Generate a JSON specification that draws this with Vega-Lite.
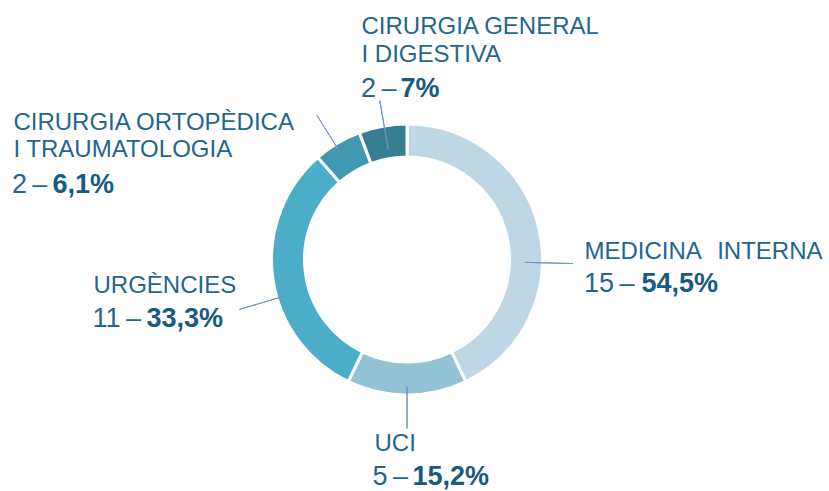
{
  "$schema": "https://vega.github.io/schema/vega-lite/v6.json",
  "autosize": {"type": "none"},
  "width": 814,
  "height": 463,
  "padding": {"left": 0, "top": 28, "right": 15, "bottom": 0},
  "background": "white",
  "config": {"view": {"stroke": null}},
  "data": {
    "values": [
      {"name": "MEDICINA\u00a0\u00a0\u200aINTERNA", "n": 15, "nlabel": "15\u2009–", "pct": "54,5%", "order": 1},
      {"name": "UCI", "n": 5, "nlabel": "5\u2009–", "pct": "15,2%", "order": 2},
      {"name": "URGÈNCIES", "n": 11, "nlabel": "11\u2009–", "pct": "33,3%", "order": 3},
      {"name": "CIRURGIA ORTOPÈDICA\nI TRAUMATOLOGIA", "n": 2, "nlabel": "2\u2009–", "pct": "6,1%", "order": 4},
      {"name": "CIRURGIA GENERAL\nI DIGESTIVA", "n": 2, "nlabel": "2\u2009–", "pct": "7%", "order": 5}
    ]
  },
  "layer": [
    {
      "mark": {"type": "arc", "radius": 135.5, "radius2": 102.5, "stroke": "white", "strokeWidth": 3},
      "encoding": {
        "theta": {"field": "n", "type": "quantitative", "stack": true},
        "order": {"field": "order"},
        "color": {
          "field": "order", "type": "nominal",
          "scale": {"domain": [1, 2, 3, 4, 5], "range": ["#bdd8e4", "#93c3d5", "#4badc7", "#4099b0", "#367f93"]},
          "legend": null
        }
      }
    },
    {"transform": [{"filter": "datum.order === 1"}], "mark": {"type": "arc", "theta": 1.5952, "theta2": 1.5952, "radius": 166, "radius2": 118, "filled": false, "stroke": "#7294c4", "strokeWidth": 1}, "encoding": {}},
    {"transform": [{"filter": "datum.order === 2"}], "mark": {"type": "arc", "theta": 3.1416, "theta2": 3.1416, "radius": 169, "radius2": 127, "filled": false, "stroke": "#7294c4", "strokeWidth": 1}, "encoding": {}},
    {"transform": [{"filter": "datum.order === 3"}], "mark": {"type": "arc", "theta": 4.4227, "theta2": 4.4227, "radius": 175, "radius2": 128, "filled": false, "stroke": "#7294c4", "strokeWidth": 1}, "encoding": {}},
    {"transform": [{"filter": "datum.order === 4"}], "mark": {"type": "arc", "theta": 5.7247, "theta2": 5.7247, "radius": 170, "radius2": 127, "filled": false, "stroke": "#7294c4", "strokeWidth": 1}, "encoding": {}},
    {"transform": [{"filter": "datum.order === 5"}], "mark": {"type": "arc", "theta": 6.1139, "theta2": 6.1139, "radius": 161, "radius2": 112, "filled": false, "stroke": "#7294c4", "strokeWidth": 1}, "encoding": {}},

    {"mark": {"type": "text", "radius": 180, "dx": 2, "dy": 39.5, "align": "left", "baseline": "alphabetic", "font": "Liberation Sans", "fontSize": 24, "color": "#1f6690", "lineBreak": "\n", "lineHeight": 28},
     "encoding": {"theta": {"field": "n", "type": "quantitative", "stack": true}, "order": {"field": "order"}, "text": {"condition": {"test": "datum.order === 1", "field": "name", "type": "nominal"}, "value": ""}}},
    {"mark": {"type": "text", "radius": 180, "dx": 1.5, "dy": 73, "align": "left", "baseline": "alphabetic", "font": "Liberation Sans", "fontSize": 27, "color": "#1f6690"},
     "encoding": {"theta": {"field": "n", "type": "quantitative", "stack": true}, "order": {"field": "order"}, "text": {"condition": {"test": "datum.order === 1", "field": "nlabel", "type": "nominal"}, "value": ""}}},
    {"mark": {"type": "text", "radius": 180, "dx": 59, "dy": 73, "align": "left", "baseline": "alphabetic", "font": "Liberation Sans", "fontSize": 27, "fontWeight": "bold", "color": "#175a82"},
     "encoding": {"theta": {"field": "n", "type": "quantitative", "stack": true}, "order": {"field": "order"}, "text": {"condition": {"test": "datum.order === 1", "field": "pct", "type": "nominal"}, "value": ""}}},

    {"mark": {"type": "text", "radius": 180, "dx": -32.5, "dy": 11.5, "align": "left", "baseline": "alphabetic", "font": "Liberation Sans", "fontSize": 24, "color": "#1f6690", "lineBreak": "\n", "lineHeight": 28},
     "encoding": {"theta": {"field": "n", "type": "quantitative", "stack": true}, "order": {"field": "order"}, "text": {"condition": {"test": "datum.order === 2", "field": "name", "type": "nominal"}, "value": ""}}},
    {"mark": {"type": "text", "radius": 180, "dx": -34.5, "dy": 45.5, "align": "left", "baseline": "alphabetic", "font": "Liberation Sans", "fontSize": 27, "color": "#1f6690"},
     "encoding": {"theta": {"field": "n", "type": "quantitative", "stack": true}, "order": {"field": "order"}, "text": {"condition": {"test": "datum.order === 2", "field": "nlabel", "type": "nominal"}, "value": ""}}},
    {"mark": {"type": "text", "radius": 180, "dx": 5.5, "dy": 45.5, "align": "left", "baseline": "alphabetic", "font": "Liberation Sans", "fontSize": 27, "fontWeight": "bold", "color": "#175a82"},
     "encoding": {"theta": {"field": "n", "type": "quantitative", "stack": true}, "order": {"field": "order"}, "text": {"condition": {"test": "datum.order === 2", "field": "pct", "type": "nominal"}, "value": ""}}},

    {"mark": {"type": "text", "radius": 200, "dx": -115.3, "dy": 6.7, "align": "left", "baseline": "alphabetic", "font": "Liberation Sans", "fontSize": 24, "color": "#1f6690", "lineBreak": "\n", "lineHeight": 28},
     "encoding": {"theta": {"field": "n", "type": "quantitative", "stack": true}, "order": {"field": "order"}, "text": {"condition": {"test": "datum.order === 3", "field": "name", "type": "nominal"}, "value": ""}}},
    {"mark": {"type": "text", "radius": 200, "dx": -116.3, "dy": 40.2, "align": "left", "baseline": "alphabetic", "font": "Liberation Sans", "fontSize": 27, "color": "#1f6690"},
     "encoding": {"theta": {"field": "n", "type": "quantitative", "stack": true}, "order": {"field": "order"}, "text": {"condition": {"test": "datum.order === 3", "field": "nlabel", "type": "nominal"}, "value": ""}}},
    {"mark": {"type": "text", "radius": 200, "dx": -62.3, "dy": 40.2, "align": "left", "baseline": "alphabetic", "font": "Liberation Sans", "fontSize": 27, "fontWeight": "bold", "color": "#175a82"},
     "encoding": {"theta": {"field": "n", "type": "quantitative", "stack": true}, "order": {"field": "order"}, "text": {"condition": {"test": "datum.order === 3", "field": "pct", "type": "nominal"}, "value": ""}}},

    {"mark": {"type": "text", "radius": 160, "dx": -311.5, "dy": 7.9, "align": "left", "baseline": "alphabetic", "font": "Liberation Sans", "fontSize": 24, "color": "#1f6690", "lineBreak": "\n", "lineHeight": 27},
     "encoding": {"theta": {"field": "n", "type": "quantitative", "stack": true}, "order": {"field": "order"}, "text": {"condition": {"test": "datum.order === 4", "field": "name", "type": "nominal"}, "value": ""}}},
    {"mark": {"type": "text", "radius": 160, "dx": -313, "dy": 70.4, "align": "left", "baseline": "alphabetic", "font": "Liberation Sans", "fontSize": 27, "color": "#1f6690"},
     "encoding": {"theta": {"field": "n", "type": "quantitative", "stack": true}, "order": {"field": "order"}, "text": {"condition": {"test": "datum.order === 4", "field": "nlabel", "type": "nominal"}, "value": ""}}},
    {"mark": {"type": "text", "radius": 160, "dx": -272.5, "dy": 70.4, "align": "left", "baseline": "alphabetic", "font": "Liberation Sans", "fontSize": 27, "fontWeight": "bold", "color": "#175a82"},
     "encoding": {"theta": {"field": "n", "type": "quantitative", "stack": true}, "order": {"field": "order"}, "text": {"condition": {"test": "datum.order === 4", "field": "pct", "type": "nominal"}, "value": ""}}},

    {"mark": {"type": "text", "radius": 200, "dx": -9.8, "dy": -28.7, "align": "left", "baseline": "alphabetic", "font": "Liberation Sans", "fontSize": 24, "color": "#1f6690", "lineBreak": "\n", "lineHeight": 28},
     "encoding": {"theta": {"field": "n", "type": "quantitative", "stack": true}, "order": {"field": "order"}, "text": {"condition": {"test": "datum.order === 5", "field": "name", "type": "nominal"}, "value": ""}}},
    {"mark": {"type": "text", "radius": 200, "dx": -10.3, "dy": 34.3, "align": "left", "baseline": "alphabetic", "font": "Liberation Sans", "fontSize": 27, "color": "#1f6690"},
     "encoding": {"theta": {"field": "n", "type": "quantitative", "stack": true}, "order": {"field": "order"}, "text": {"condition": {"test": "datum.order === 5", "field": "nlabel", "type": "nominal"}, "value": ""}}},
    {"mark": {"type": "text", "radius": 200, "dx": 29.2, "dy": 34.3, "align": "left", "baseline": "alphabetic", "font": "Liberation Sans", "fontSize": 27, "fontWeight": "bold", "color": "#175a82"},
     "encoding": {"theta": {"field": "n", "type": "quantitative", "stack": true}, "order": {"field": "order"}, "text": {"condition": {"test": "datum.order === 5", "field": "pct", "type": "nominal"}, "value": ""}}}
  ]
}
